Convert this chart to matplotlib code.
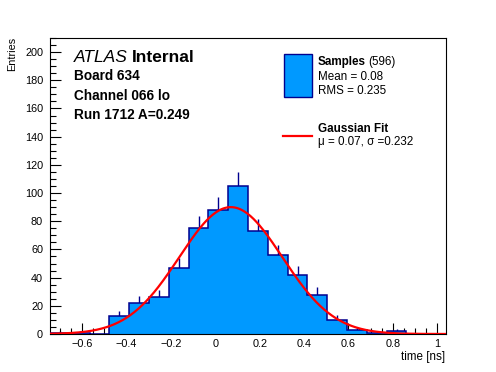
import numpy as np
import matplotlib
matplotlib.use("Agg")
import matplotlib.pyplot as plt
from matplotlib.patches import Rectangle
from matplotlib.lines import Line2D

# ---- data ----
x_range = [-0.745, 1.04]
n_bins = 20
counts = [1, 1, 0, 13, 22, 26, 47, 75, 88, 105, 73, 56, 42, 28, 10, 3, 1, 2, 0, 0]
fit_amp = 90.0
fit_mu = 0.07
fit_sigma = 0.232
x_ticks = [-0.6, -0.4, -0.2, 0, 0.2, 0.4, 0.6, 0.8, 1]
x_tick_labels = ["\u22120.6", "\u22120.4", "\u22120.2", "0", "0.2", "0.4", "0.6", "0.8", "1"]
y_ticks = list(range(0, 201, 20))
y_max = 210

W, H = 496, 372
FONT = "Liberation Sans"
plt.rcParams["font.family"] = [FONT, "DejaVu Sans"]

fig = plt.figure(figsize=(W / 100, H / 100), dpi=100)
L, R, T, B = 50, 446, 38, 334
ax = fig.add_axes([L / W, 1 - B / H, (R - L) / W, (B - T) / H])

edges = np.linspace(x_range[0], x_range[1], n_bins + 1)
cnt = np.array(counts, dtype=float)
centers = 0.5 * (edges[:-1] + edges[1:])
err = np.sqrt(cnt)
navy = "#00008f"
fillc = "#0099ff"

mask = cnt > 0
ax.vlines(centers[mask], (cnt - err)[mask], (cnt + err)[mask], color=navy, lw=1.0, zorder=1)
ax.stairs(cnt, edges, fill=True, color=fillc, zorder=2)
ax.stairs(cnt, edges, fill=False, color=navy, lw=1.1, zorder=3)

xs = np.linspace(x_range[0], x_range[1], 400)
ax.plot(xs, fit_amp * np.exp(-0.5 * ((xs - fit_mu) / fit_sigma) ** 2), color="#ff0000", lw=1.6, zorder=4)

ax.set_xlim(*x_range)
ax.set_ylim(0, y_max)
ax.set_xticks(x_ticks)
ax.set_xticklabels(x_tick_labels)
ax.set_xticks(np.arange(-0.7, 1.04, 0.05), minor=True)
ax.set_yticks(y_ticks)
ax.set_yticks(np.arange(0, 211, 5), minor=True)
ax.tick_params(which="both", direction="in", top=False, right=False, width=0.8, labelsize=7.8)
ax.tick_params(which="major", length=8)
ax.tick_params(which="minor", length=4)
ax.tick_params(axis="y", pad=5)
ax.tick_params(axis="x", pad=3.5)
for sp in ax.spines.values():
    sp.set_linewidth(0.8)

def px(x, y):
    return x / W, 1 - y / H

# axis titles
fig.text(*px(12, 37), "Entries", rotation=90, ha="center", va="top", fontsize=7.8)
fig.text(*px(445, 360), "time [ns]", ha="right", va="baseline", fontsize=8.4)

# ATLAS labels
fig.text(*px(74, 62), "ATLAS", style="italic", ha="left", va="baseline", fontsize=12.5)
fig.text(*px(132, 62), "Internal", weight="bold", ha="left", va="baseline", fontsize=12.5)
fig.text(*px(74, 80), "Board 634", weight="bold", ha="left", va="baseline", fontsize=9.8)
fig.text(*px(74, 100), "Channel 066 lo", weight="bold", ha="left", va="baseline", fontsize=9.8)
fig.text(*px(74, 119), "Run 1712 A=0.249", weight="bold", ha="left", va="baseline", fontsize=9.8)

# legend
x0, y0 = px(283.5, 96.5)
x1, y1 = px(311.5, 53.5)
fig.patches.append(Rectangle((x0, y0), x1 - x0, y1 - y0, transform=fig.transFigure,
                             facecolor=fillc, edgecolor=navy, lw=1.0))
lx0, ly = px(283, 136)
lx1, _ = px(312, 136)
fig.lines.append(Line2D([lx0, lx1], [ly, ly], transform=fig.transFigure, color="#ff0000", lw=1.6))
fig.text(*px(317.5, 65), "Samples", weight="bold", ha="left", va="baseline", fontsize=8.4)
fig.text(*px(368, 65), "(596)", ha="left", va="baseline", fontsize=8.4)
fig.text(*px(317.5, 80), "Mean = 0.08", ha="left", va="baseline", fontsize=8.4)
fig.text(*px(317.5, 93.5), "RMS = 0.235", ha="left", va="baseline", fontsize=8.4)
fig.text(*px(317.5, 132.5), "Gaussian Fit", weight="bold", ha="left", va="baseline", fontsize=8.4)
fig.text(*px(317.5, 144.5), "\u03bc = 0.07, \u03c3 =0.232", ha="left", va="baseline", fontsize=8.4)

fig.savefig("out.png", dpi=100)
